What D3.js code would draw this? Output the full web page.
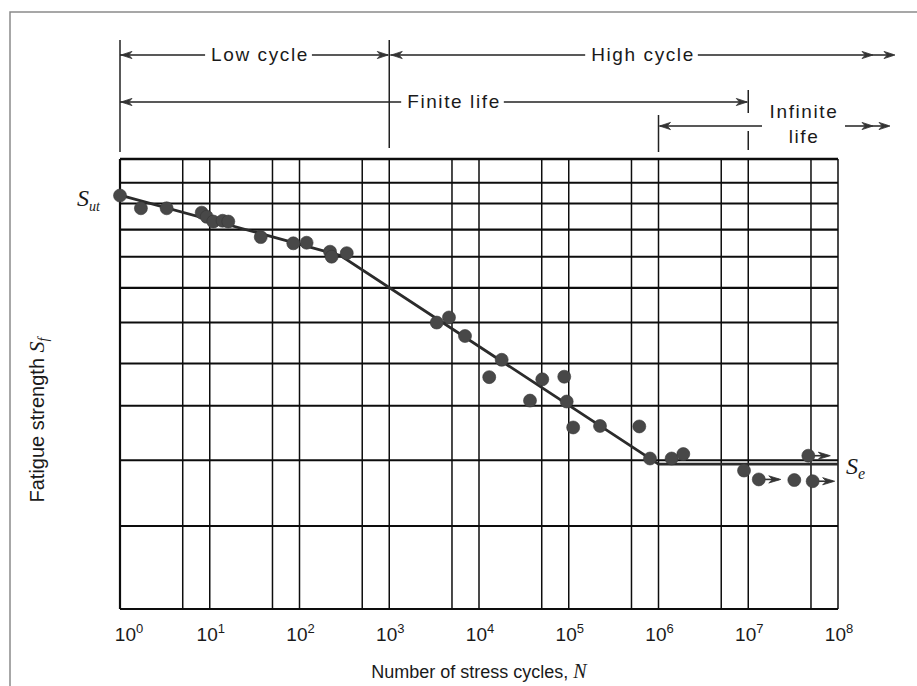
<!DOCTYPE html>
<html>
<head>
<meta charset="utf-8">
<script src="https://cdn.jsdelivr.net/npm/d3@7"></script>
<style>
  body { margin: 0; background: #fff; }
  svg text { font-family: "Liberation Sans", Arial, sans-serif; fill: #1a1a1a; }
  .ital { font-family: "Liberation Serif", "Times New Roman", serif; font-style: italic; }
</style>
</head>
<body>
<script>
// ---- data ----
var decades = [0, 1, 2, 3, 4, 5, 6, 7, 8];
var gridN = [1, 5, 10, 50, 1e2, 5e2, 1e3, 5e3, 1e4, 5e4, 1e5, 5e5, 1e6, 5e6, 1e7, 5e7, 1e8];
var gridS = [14.5, 13.45, 12.6, 11.6, 10.65, 9.65, 8.65, 7.6, 6.65, 5.6, 4.55, 3.5];

var testN = [1, 1.71, 3.31, 8.13, 9.25, 10.95, 13.9, 16.1, 37, 85.3, 120, 219, 228, 336,
             3380, 4630, 6980, 17900, 13000, 50700, 89100, 37000, 94900, 112000, 223000, 611000,
             804000, 1.40e6, 1.89e6, 8.97e6, 1.31e7, 3.26e7, 4.67e7, 5.22e7];
var testS = [12.92, 12.41, 12.41, 12.24, 12.08, 11.90, 11.93, 11.90, 11.33, 11.11, 11.13, 10.82, 10.65, 10.77,
             8.65, 8.79, 8.29, 7.69, 7.28, 7.23, 7.29, 6.76, 6.74, 6.21, 6.24, 6.23,
             5.63, 5.63, 5.71, 5.42, 5.27, 5.26, 5.68, 5.24];
// runouts (specimen did not fail)
var runout = [false, false, false, false, false, false, false, false, false, false, false, false, false, false,
              false, false, false, false, false, false, false, false, false, false, false, false,
              false, false, false, false, true, false, true, true];

var fitN = [1, 286, 1e6, 1e8];
var fitS = [12.94, 10.69, 5.53, 5.53];

var W = 917, H = 686;
var plotL = 120, plotR = 838, plotT = 159, plotB = 609;

var svg = d3.select("body").append("svg").attr("width", W).attr("height", H);

var x = d3.scaleLog().domain([1, 1e8]).range([plotL, plotR]);
var y = d3.scaleLog().domain([3.5, 14.5]).range([plotB, plotT]);

// page frame
svg.append("path").attr("d", "M10," + H + "V12H" + W)
  .attr("fill", "none").attr("stroke", "#8a8a8a").attr("stroke-width", 1.5);

// grid
var grid = svg.append("g");
grid.selectAll("line.v").data(gridN).enter().append("line")
  .attr("x1", function(d){ return x(d); }).attr("x2", function(d){ return x(d); })
  .attr("y1", plotT).attr("y2", plotB)
  .attr("stroke", "#0d0d0d").attr("stroke-width", function(d, i){ return (i == 0) ? 2.2 : 1.5; });
grid.selectAll("line.h").data(gridS).enter().append("line")
  .attr("x1", plotL).attr("x2", plotR)
  .attr("y1", function(d){ return y(d); }).attr("y2", function(d){ return y(d); })
  .attr("stroke", "#0d0d0d").attr("stroke-width", function(d, i){ return (i == 0) ? 2.6 : 2.1; });

// x tick labels
var ticks = svg.append("g");
ticks.selectAll("text").data(decades).enter().append("text")
  .attr("x", function(d){ return x(Math.pow(10, d)) + (d == 0 ? 9 : 1); })
  .attr("y", 641)
  .attr("text-anchor", "middle")
  .style("font-size", "19px")
  .each(function(d){
    var t = d3.select(this);
    t.append("tspan").text("10");
    t.append("tspan").attr("dy", -8).style("font-size", "13px").text(d);
  });

// axis titles
var xt = svg.append("text").attr("x", 479).attr("y", 678).attr("text-anchor", "middle")
  .style("font-size", "18px");
xt.append("tspan").text("Number of stress cycles, ");
xt.append("tspan").attr("class", "ital").style("font-size", "20px").text("N");

var yt = svg.append("text").attr("transform", "translate(44,420) rotate(-90)")
  .attr("text-anchor", "middle").style("font-size", "20px");
yt.append("tspan").text("Fatigue strength ");
yt.append("tspan").attr("class", "ital").style("font-size", "22px").text("S");
yt.append("tspan").attr("class", "ital").attr("dy", 4).style("font-size", "14px").text("f");

// S_ut and S_e labels
var sut = svg.append("text").attr("x", 77).attr("y", 206).attr("class", "ital").style("font-size", "24px");
sut.append("tspan").text("S");
sut.append("tspan").attr("dy", 5).style("font-size", "14px").text("ut");

var se = svg.append("text").attr("x", 846).attr("y", 474).attr("class", "ital").style("font-size", "24px");
se.append("tspan").text("S");
se.append("tspan").attr("dy", 5).style("font-size", "16px").text("e");

// fitted S-N line
var line = d3.line().x(function(d){ return x(d[0]); }).y(function(d){ return y(d[1]); });
svg.append("path").datum(d3.zip(fitN, fitS)).attr("d", line)
  .attr("fill", "none").attr("stroke", "#2b2b2b").attr("stroke-width", 2.8);

// arrow head helper: tip at (tx,ty), dir +1 right, -1 left
function head(g, tx, ty, dir, len) {
  len = len || 11;
  var b = tx - dir * len;
  g.append("path")
    .attr("d", "M" + tx + "," + ty + "L" + b + "," + (ty - 3.6) + "L" + (tx - dir * len * 0.7) + "," + ty +
               "L" + b + "," + (ty + 3.6) + "Z")
    .attr("fill", "#333").attr("stroke", "#333").attr("stroke-width", 0.8);
}

// test points
var pts = svg.append("g");
d3.range(testN.length).forEach(function(i){
  var cx = x(testN[i]), cy = y(testS[i]);
  if (runout[i]) {
    pts.append("line").attr("x1", cx).attr("x2", cx + 20).attr("y1", cy).attr("y2", cy)
      .attr("stroke", "#333").attr("stroke-width", 1.6);
    head(pts, cx + 22, cy, 1, 12);
  }
  pts.append("circle").attr("cx", cx).attr("cy", cy).attr("r", 6.5)
    .attr("fill", "#484848").attr("stroke", "#383838").attr("stroke-width", 0.6);
});

// ---- life regimes across the top ----
var ann = svg.append("g");
function vline(n, y1, y2) {
  ann.append("line").attr("x1", x(n)).attr("x2", x(n)).attr("y1", y1).attr("y2", y2)
    .attr("stroke", "#222").attr("stroke-width", 1.5);
}
vline(1, 40, 152);
vline(1e3, 40, 148);
vline(1e6, 115, 152);
vline(1e7, 90, 113);
vline(1e7, 131, 150);

function hseg(x1, x2, yy) {
  ann.append("line").attr("x1", x1).attr("x2", x2).attr("y1", yy).attr("y2", yy)
    .attr("stroke", "#222").attr("stroke-width", 1.4);
}
function label(txt, cx, by) {
  var t = ann.append("text").attr("x", cx + 1).attr("y", by).attr("text-anchor", "middle")
    .style("font-size", "19px").style("letter-spacing", "1.6px").text(txt);
  var w = t.node().getComputedTextLength();
  return [cx - w / 2 - 5, cx + w / 2 + 4];
}

// Low cycle
var lc = label("Low cycle", 259, 61);
hseg(x(1), lc[0], 55); hseg(lc[1], x(1e3) - 1, 55);
head(ann, x(1) + 1, 55, -1); head(ann, x(1e3) - 1, 55, 1);

// High cycle
var hc = label("High cycle", 642, 61);
hseg(x(1e3) + 1, hc[0], 55); hseg(hc[1], 893, 55);
head(ann, x(1e3) + 2, 55, -1); head(ann, 873, 55, 1); head(ann, 895, 55, 1);

// Finite life
var fl = label("Finite life", 453, 108);
hseg(x(1), fl[0], 102); hseg(fl[1], x(1e7) - 1, 102);
head(ann, x(1) + 1, 102, -1); head(ann, x(1e7) - 1, 102, 1);

// Infinite life
label("Infinite", 803, 118);
label("life", 803, 143);
hseg(x(1e6) + 1, 762, 126); hseg(845, 888, 126);
head(ann, x(1e6) + 1, 126, -1); head(ann, 873, 126, 1); head(ann, 890, 126, 1);
</script>
</body>
</html>
